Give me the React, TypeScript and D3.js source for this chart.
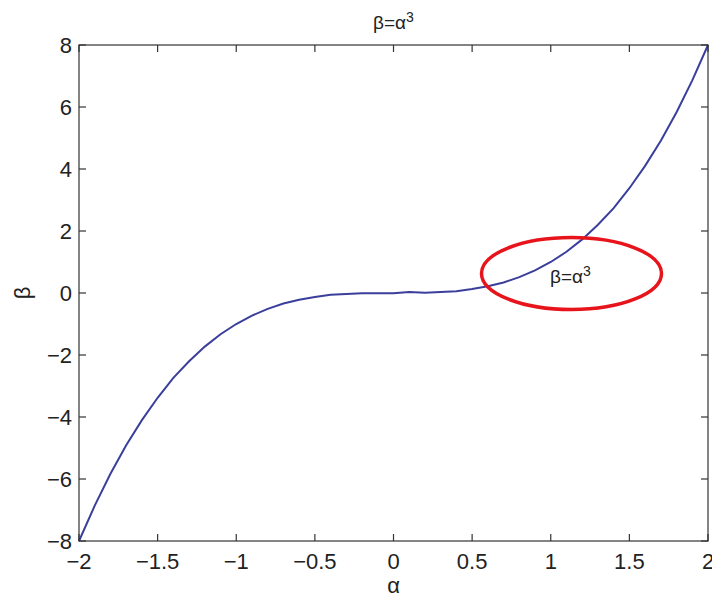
import React from "react";
import * as d3 from "d3";

const alphaValues = [-2, -1.9, -1.8, -1.7, -1.6, -1.5, -1.4, -1.3, -1.2, -1.1, -1, -0.9, -0.8, -0.7, -0.6, -0.5, -0.4, -0.3, -0.2, -0.1, 0, 0.1, 0.2, 0.3, 0.4, 0.5, 0.6, 0.7, 0.8, 0.9, 1, 1.1, 1.2, 1.3, 1.4, 1.5, 1.6, 1.7, 1.8, 1.9, 2];
const betaValues = [-8, -6.86, -5.83, -4.91, -4.1, -3.38, -2.74, -2.2, -1.73, -1.33, -1, -0.73, -0.51, -0.34, -0.22, -0.13, -0.06, -0.03, -0.01, -0.01, -0.01, 0.03, 0.01, 0.03, 0.06, 0.13, 0.22, 0.34, 0.51, 0.73, 1, 1.33, 1.73, 2.2, 2.74, 3.38, 4.1, 4.91, 5.83, 6.86, 8];
const xTicks = [-2, -1.5, -1, -0.5, 0, 0.5, 1, 1.5, 2];
const yTicks = [-8, -6, -4, -2, 0, 2, 4, 6, 8];

const W = 712, H = 599;
const left = 79, right = 708, top = 45, bottom = 541;
const font = "'Liberation Sans', Arial, sans-serif";

const fmt = (v: number) => (v < 0 ? "\u2212" + String(-v) : String(v));

export default function App() {
  const x = d3.scaleLinear().domain([-2, 2]).range([left, right]);
  const y = d3.scaleLinear().domain([-8, 8]).range([bottom, top]);
  const pts = alphaValues.map((a, i) => [a, betaValues[i]] as [number, number]);
  const line = d3.line<[number, number]>().x(d => x(d[0])).y(d => y(d[1]));
  const tl = 7;
  const axisColor = "#333";
  return (
    <svg width={W} height={H} style={{ position: "absolute", left: 0, top: 0, background: "#fff" }}>
      <rect x={0} y={0} width={W} height={H} fill="#fff" />
      <text x={x(0)} y={29} textAnchor="middle" fontFamily={font} fontSize={19} fill="#222">
        β=α<tspan dy={-7} fontSize={14}>3</tspan>
      </text>
      <path d={line(pts) || ""} fill="none" stroke="#3a3f9c" strokeWidth={2} />
      <rect x={left} y={top} width={right - left} height={bottom - top} fill="none" stroke={axisColor} strokeWidth={1.2} />
      {xTicks.map(t => (
        <g key={"x" + t}>
          <line x1={x(t)} x2={x(t)} y1={bottom} y2={bottom - tl} stroke={axisColor} strokeWidth={1.2} />
          <line x1={x(t)} x2={x(t)} y1={top} y2={top + tl} stroke={axisColor} strokeWidth={1.2} />
          <text x={x(t)} y={569} textAnchor="middle" fontFamily={font} fontSize={22} fill="#222">{fmt(t)}</text>
        </g>
      ))}
      {yTicks.map(t => (
        <g key={"y" + t}>
          <line x1={left} x2={left + tl} y1={y(t)} y2={y(t)} stroke={axisColor} strokeWidth={1.2} />
          <line x1={right} x2={right - tl} y1={y(t)} y2={y(t)} stroke={axisColor} strokeWidth={1.2} />
          <text x={72} y={y(t) + 8} textAnchor="end" fontFamily={font} fontSize={22} fill="#222">{fmt(t)}</text>
        </g>
      ))}
      <text x={x(0)} y={593} textAnchor="middle" fontFamily={font} fontSize={22} fill="#222">α</text>
      <text transform={`translate(30, ${y(0)}) rotate(-90)`} textAnchor="middle" fontFamily={font} fontSize={22} fill="#222">β</text>
      <ellipse cx={571.5} cy={273.5} rx={90} ry={36} fill="none" stroke="#e8141c" strokeWidth={3.5} />
      <text x={550} y={283} fontFamily={font} fontSize={19} fill="#222">
        β=α<tspan dy={-7} fontSize={14}>3</tspan>
      </text>
    </svg>
  );
}
